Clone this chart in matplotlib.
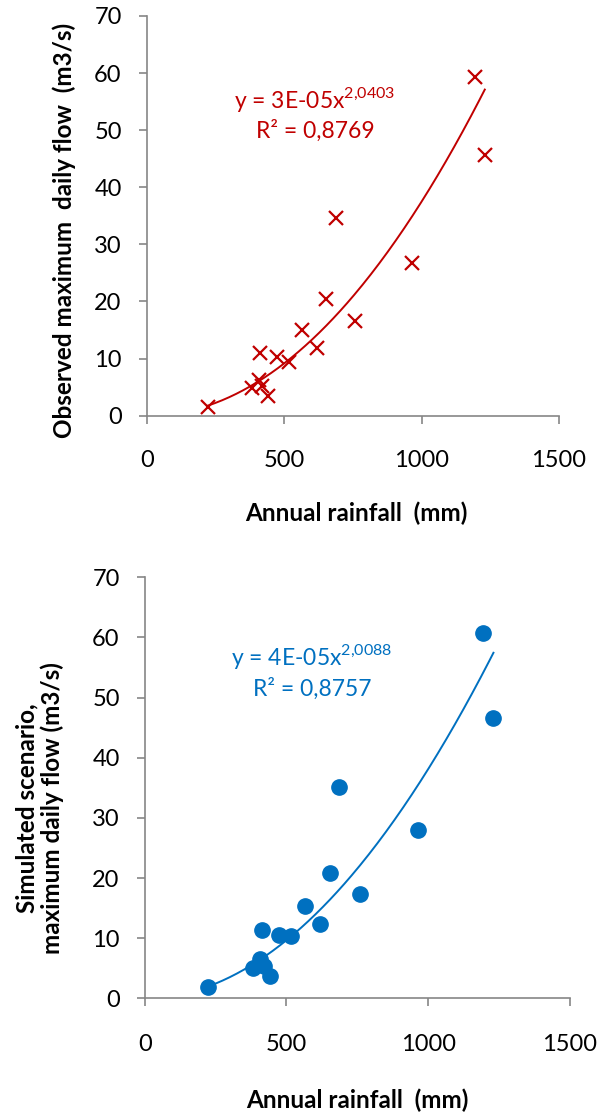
import numpy as np
import matplotlib
matplotlib.use("Agg")
import matplotlib.pyplot as plt

plt.rcParams['font.family'] = ['Lato', 'DejaVu Sans']
plt.rcParams['mathtext.fontset'] = 'custom'
plt.rcParams['mathtext.rm'] = 'Lato'

# Annual rainfall (mm) per year, shared by both panels
rainfall = [224, 1193, 1230, 687, 964, 654, 759, 564, 618, 414, 473, 517, 383, 408, 421, 442]
# Observed maximum daily flow (m3/s)
observed_flow = [1.6, 59.4, 45.7, 34.6, 26.8, 20.4, 16.5, 15.0, 11.8, 10.9, 10.2, 9.35, 4.8, 6.25, 5.25, 3.5]
# Simulated scenario maximum daily flow (m3/s)
simulated_flow = [1.9, 60.8, 46.6, 35.2, 28.0, 20.8, 17.3, 15.4, 12.3, 11.4, 10.5, 10.4, 5.0, 6.5, 5.4, 3.7]

x_ticks = [0, 500, 1000, 1500]
y_ticks = [0, 10, 20, 30, 40, 50, 60, 70]

RED = '#C00000'
BLUE = '#0070C0'
GREY = '#868686'

W, H = 605, 1114
fig = plt.figure(figsize=(W / 100, H / 100), dpi=100)


def box(x0, y0, x1, y1):
    """Pixel box (top-left origin) -> figure-fraction rect."""
    return [x0 / W, 1 - y1 / H, (x1 - x0) / W, (y1 - y0) / H]


def power_fit(x, y):
    b, log_a = np.polyfit(np.log(x), np.log(y), 1)
    return np.exp(log_a), b


def style_axes(ax, xpad, ypad):
    ax.set_xlim(0, 1500)
    ax.set_ylim(0, 70)
    ax.set_xticks(x_ticks)
    ax.set_yticks(y_ticks)
    for side in ('top', 'right'):
        ax.spines[side].set_visible(False)
    for side in ('left', 'bottom'):
        ax.spines[side].set_color(GREY)
        ax.spines[side].set_linewidth(1.2)
    ax.tick_params(axis='both', direction='out', length=6, width=1.2,
                   color=GREY, labelsize=17, labelcolor='black')
    ax.tick_params(axis='x', pad=xpad)
    ax.tick_params(axis='y', pad=ypad)


def panel(rect, y, color, marker, eq_text, r2_text, eq_pos, r2_pos, xpad, ypad):
    ax = fig.add_axes(rect)
    style_axes(ax, xpad, ypad)
    x = np.asarray(rainfall, float)
    y = np.asarray(y, float)
    a, b = power_fit(x, y)
    xs = np.linspace(x.min(), x.max(), 200)
    ax.plot(xs, a * xs ** b, color=color, lw=1.4, zorder=2)
    if marker == 'x':
        ax.plot(x, y, linestyle='none', marker='x', ms=10, mew=1.6,
                color=color, zorder=3, clip_on=False)
    else:
        ax.plot(x, y, linestyle='none', marker='o', ms=11,
                color=color, zorder=3, clip_on=False)
    ax.text(*eq_pos, eq_text, color=color, fontsize=16.5,
            ha='center', va='center')
    ax.text(*r2_pos, r2_text, color=color, fontsize=16.5,
            ha='center', va='center')
    return ax


ax1 = panel(box(146.7, 16, 559, 415.7), observed_flow, RED, 'x',
            r'y = 3E-05x$^{\mathregular{2{,}0403}}$', 'R² = 0,8769',
            (612, 55.3), (612, 49.9), xpad=19, ypad=12)
ax2 = panel(box(144.7, 577.3, 570, 998.3), simulated_flow, BLUE, 'o',
            r'y = 4E-05x$^{\mathregular{2{,}0088}}$', 'R² = 0,8757',
            (590, 56.8), (590, 51.4), xpad=20, ypad=12)

label_kw = dict(fontsize=17.5, fontweight='bold', color='black',
                ha='center', va='center')
fig.text(356 / W, 1 - 513 / H, 'Annual rainfall  (mm)', **label_kw)
fig.text(357 / W, 1 - 1100 / H, 'Annual rainfall  (mm)', **label_kw)
fig.text(64 / W, 1 - 230 / H, 'Observed maximum  daily flow  (m3/s)',
         rotation=90, **label_kw)
fig.text(40 / W, 1 - 808 / H, 'Simulated scenario,\nmaximum daily flow (m3/s)',
         rotation=90, linespacing=1.1, **label_kw)

fig.savefig('out.png', dpi=100)
